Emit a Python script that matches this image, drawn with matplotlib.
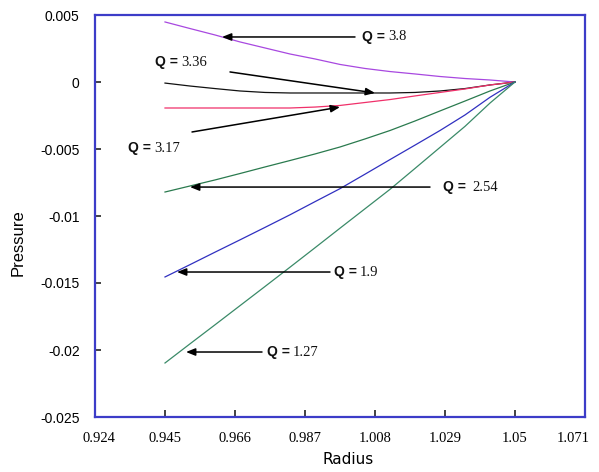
import matplotlib
matplotlib.use("Agg")
import matplotlib.pyplot as plt
from matplotlib.transforms import ScaledTranslation

# ---------------- data ----------------
radius = [0.945, 0.9525, 0.96, 0.9675, 0.975, 0.9825, 0.99, 0.9975,
          1.005, 1.0125, 1.02, 1.0275, 1.035, 1.0425, 1.05]
p_q380 = [0.00448, 0.00399, 0.00351, 0.00299, 0.00254, 0.00209, 0.00172, 0.00131,
          0.00101, 0.00078, 0.0006, 0.00041, 0.00026, 0.00015, 0.0]
p_q336 = [-0.00008, -0.0003, -0.00049, -0.00067, -0.00078, -0.00082, -0.00082, -0.00082,
          -0.00082, -0.00082, -0.00078, -0.00067, -0.00049, -0.00022, 0.0]
p_q317 = [-0.00194, -0.00194, -0.00194, -0.00194, -0.00194, -0.00194, -0.00187, -0.00175,
          -0.00153, -0.00131, -0.00104, -0.00078, -0.00052, -0.00022, 0.0]
p_q254 = [-0.00821, -0.00776, -0.00731, -0.00683, -0.00634, -0.00586, -0.00537, -0.00485,
          -0.00425, -0.00362, -0.00291, -0.00216, -0.00142, -0.00067, 0.0]
p_q190 = [-0.01455, -0.01363, -0.0127, -0.01178, -0.01085, -0.00991, -0.00893, -0.00796,
          -0.00688, -0.00579, -0.00471, -0.00362, -0.00246, -0.00114, 0.0]
p_q127 = [-0.02097, -0.01954, -0.01812, -0.01669, -0.01526, -0.01382, -0.01237, -0.01091,
          -0.00946, -0.00801, -0.00645, -0.00488, -0.00331, -0.00157, 0.0]

x_ticks = [0.924, 0.945, 0.966, 0.987, 1.008, 1.029, 1.05, 1.071]
x_ticklabels = ["0.924", "0.945", "0.966", "0.987", "1.008", "1.029", "1.05", "1.071"]
y_ticks = [0.005, 0, -0.005, -0.01, -0.015, -0.02, -0.025]
y_ticklabels = ["0.005", "0", "-0.005", "-0.01", "-0.015", "-0.02", "-0.025"]

# ---------------- figure ----------------
fig = plt.figure(figsize=(5.99, 4.72), dpi=100)
ax = fig.add_axes([95/599, 1-417/472, 490/599, 402/472])

series = [
    (p_q380, "#a848e0"),
    (p_q336, "#111111"),
    (p_q317, "#f0306a"),
    (p_q254, "#2a7a4e"),
    (p_q190, "#3030c0"),
    (p_q127, "#3a8a68"),
]
for vals, col in series:
    ax.plot(radius, vals, color=col, lw=0.9)

ax.set_xlim(0.924, 1.071)
ax.set_ylim(-0.025, 0.005)
ax.set_xticks(x_ticks)
ax.set_xticklabels(x_ticklabels, family="Liberation Serif", fontsize=10.5)
ax.set_yticks(y_ticks)
ax.set_yticklabels(y_ticklabels, family="Liberation Sans", fontsize=10)
ax.tick_params(axis="x", direction="in", length=5, width=1.2, pad=11, color="#222222")
ax.tick_params(axis="y", direction="in", length=4, width=1.2, pad=11, color="#222222")
for s in ax.spines.values():
    s.set_color("#3c3cc8")
    s.set_linewidth(1.6)

# keep the last x label inside the figure, like the reference
last = ax.get_xticklabels()[-1]
last.set_horizontalalignment("right")
last.set_transform(last.get_transform() + ScaledTranslation(5/100, 0, fig.dpi_scale_trans))
first = ax.get_xticklabels()[0]
first.set_transform(first.get_transform() + ScaledTranslation(4/100, 0, fig.dpi_scale_trans))

fig.text(348/599, 1-460/472, "Radius", ha="center", va="center",
         family="DejaVu Sans", fontsize=11)
fig.text(18/599, 1-243/472, "Pressure", ha="center", va="center",
         rotation=90, family="Liberation Sans", fontsize=12)

# ---------------- annotations ----------------
arrow_kw = dict(arrowstyle="-|>,head_length=0.55,head_width=0.22",
                color="black", lw=1.1, shrinkA=0, shrinkB=0)
annots = [
    ((1.002, 0.00336), (0.9621, 0.00336), (1.0041, 0.00336), "=", "3.8"),
    ((0.9645, 0.00075), (1.0080, -0.00082), (0.9420, 0.00149), "=", "3.36"),
    ((0.9531, -0.00373), (0.9975, -0.00187), (0.9339, -0.00493), "=", "3.17"),
    ((1.0245, -0.00784), (0.9525, -0.00784), (1.0284, -0.00784), "= ", "2.54"),
    ((0.9945, -0.01418), (0.9486, -0.01418), (0.9957, -0.01418), "=", "1.9"),
    ((0.9741, -0.02015), (0.9513, -0.02015), (0.9756, -0.02015), "=", "1.27"),
]
for tail, tip, tpos, eq, num in annots:
    ax.annotate("", xy=tip, xytext=tail, arrowprops=arrow_kw)
    t = ax.text(tpos[0], tpos[1], "Q " + eq, family="Liberation Sans",
                fontsize=10, fontweight="bold", ha="left", va="center",
                color="#111111")
    fig.canvas.draw()
    bb = t.get_window_extent()
    ax.annotate(num, xy=(bb.x1, (bb.y0 + bb.y1) / 2), xycoords="figure pixels",
                xytext=(2, 0), textcoords="offset points",
                family="Liberation Serif", fontsize=10.5, ha="left", va="center",
                color="#111111")

fig.savefig("out.png", dpi=100)
